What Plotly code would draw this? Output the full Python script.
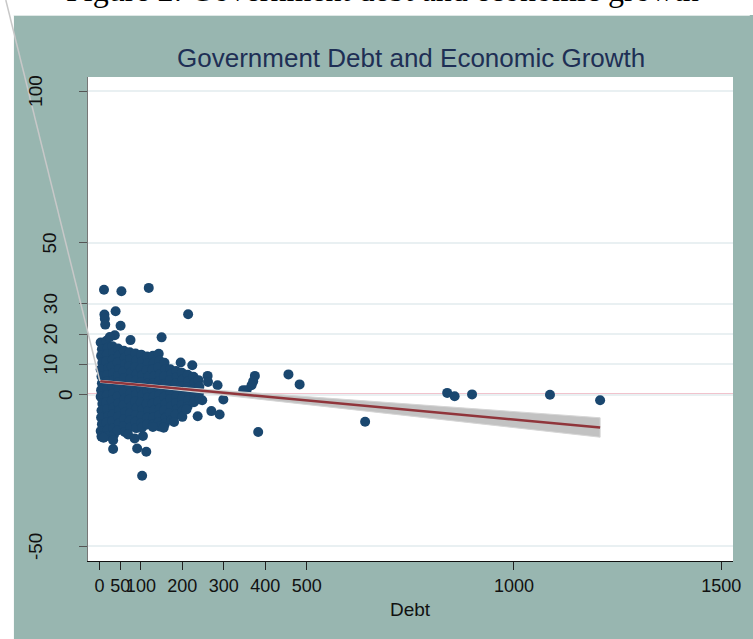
import plotly.graph_objects as go

# ---- data -----------------------------------------------------------------
# dense cluster, column by column (debt, growth)
cluster_debt = [
    3, 6, 4, 7, 3, 5, 6, 4, 3, 7, 5, 4, 6, 3, 5,
    17, 20, 18, 16, 21, 19, 17, 20, 18, 16, 19, 21, 17, 20, 18,
    31, 34, 32, 30, 33, 35, 31, 33, 30, 34, 32, 31, 33, 35,
    45, 47, 44, 48, 46, 45, 47, 44, 46, 48, 45, 47, 44,
    59, 61, 62, 58, 60, 63, 59, 61, 58, 62, 60, 59, 61,
    73, 75, 72, 76, 74, 73, 75, 72, 76, 74, 73, 75,
    87, 89, 86, 90, 88, 87, 89, 86, 90, 88, 87, 89,
    101, 103, 100, 104, 102, 101, 103, 100, 104, 102, 101, 103,
    115, 117, 114, 118, 116, 115, 117, 114, 118, 116, 115,
    129, 131, 128, 132, 130, 129, 131, 128, 132, 130, 129,
    143, 145, 142, 146, 144, 143, 145, 142, 146, 144, 143, 145,
    157, 159, 156, 160, 158, 157, 159, 156, 160, 158,
    171, 173, 170, 174, 172, 171, 173, 170, 174,
    185, 187, 184, 188, 186, 185, 187, 184,
    199, 201, 198, 202, 200, 199, 201,
    213, 215, 212, 216, 214, 213,
    227, 229, 226, 230, 228,
    239, 241, 240, 242,
]
cluster_growth = [
    17.2, 15.0, 12.8, 10.5, 8.3, 6.0, 3.8, 1.5, -0.7, -3.0, -5.2, -7.5, -9.7, -12.0, -13.8,
    17.8, 15.5, 13.3, 11.0, 8.8, 6.5, 4.3, 2.0, -0.2, -2.5, -4.7, -7.0, -9.2, -11.5, -13.6,
    16.0, 13.8, 11.5, 9.3, 7.0, 4.8, 2.5, 0.3, -2.0, -4.2, -6.5, -8.7, -11.0, -13.2,
    15.2, 13.0, 10.7, 8.5, 6.2, 4.0, 1.7, -0.5, -2.8, -5.0, -7.3, -9.5, -11.8,
    14.5, 12.2, 10.0, 7.7, 5.5, 3.2, 1.0, -1.3, -3.5, -5.8, -8.0, -10.3, -12.3,
    14.0, 11.8, 9.5, 7.3, 5.0, 2.8, 0.5, -1.7, -4.0, -6.2, -8.5, -10.7,
    13.6, 11.3, 9.1, 6.8, 4.6, 2.3, 0.1, -2.2, -4.4, -6.7, -8.9, -11.0,
    13.2, 11.0, 8.7, 6.5, 4.2, 2.0, -0.3, -2.5, -4.8, -7.0, -9.3, -10.8,
    12.6, 10.4, 8.1, 5.9, 3.6, 1.4, -0.9, -3.1, -5.4, -7.6, -9.8,
    12.8, 10.5, 8.3, 6.0, 3.8, 1.5, -0.7, -3.0, -5.2, -7.5, -9.8,
    13.5, 11.2, 9.0, 6.7, 4.5, 2.2, 0.0, -2.3, -4.5, -6.8, -9.0, -10.5,
    10.5, 8.3, 6.0, 3.8, 1.5, -0.7, -3.0, -5.2, -7.5, -9.6,
    8.4, 6.8, 4.8, 2.7, 0.6, -1.5, -3.7, -6.0, -8.3,
    7.8, 5.8, 3.6, 1.5, -0.6, -2.7, -4.8, -6.6,
    7.2, 5.0, 2.9, 0.8, -1.3, -3.4, -5.2,
    6.6, 4.5, 2.4, 0.3, -1.8, -3.8,
    5.9, 3.8, 1.7, -0.4, -2.5,
    4.8, 2.6, 0.4, -1.5,
]
# scattered points outside the cluster
outlier_debt = [
    11, 53, 119, 214, 39, 12, 13, 14, 51, 75, 150, 37, 25,
    196, 224, 261, 262, 285, 299, 270, 290, 237, 200, 210, 248,
    375, 371, 367, 355, 347, 456, 483, 383, 641,
    839, 857, 899, 1087, 1208,
    103, 113, 91, 33, 10, 33, 69, 85, 105, 129, 155, 180,
]
outlier_growth = [
    34.6, 34.1, 35.2, 26.5, 27.5, 26.4, 25.0, 23.1, 22.7, 18.0, 18.9, 19.6, 19.0,
    10.6, 9.7, 6.2, 4.2, 3.1, -1.6, -5.4, -6.5, -7.1, -7.3, -4.9, -1.8,
    6.2, 4.4, 3.1, 1.5, 1.5, 6.7, 3.4, -12.3, -8.9,
    0.6, -0.5, 0.1, 0.0, -1.8,
    -26.7, -18.8, -17.7, -17.9, -14.2, -15.0, -13.1, -14.4, -13.6, -10.6, -10.9, -9.0,
]
# linear fit with confidence band
fit_x = [1.7, 100, 200, 300, 400, 500, 600, 700, 800, 900, 1000, 1100, 1208]
fit_y = [4.4, 3.16, 1.9, 0.64, -0.62, -1.88, -3.14, -4.4, -5.66, -6.92, -8.18, -9.44, -10.8]
ci_upper = [4.75, 3.46, 2.35, 1.32, 0.33, -0.66, -1.64, -2.62, -3.61, -4.59, -5.58, -6.54, -7.6]
ci_lower = [4.05, 2.86, 1.45, -0.04, -1.57, -3.10, -4.64, -6.18, -7.71, -9.25, -10.78, -12.34, -14.0]

x_ticks = [0, 50, 100, 200, 300, 400, 500, 1000, 1500]
y_ticks = [-50, 0, 10, 20, 30, 50, 100]

# ---- styles -----------------------------------------------------------------
NAVY = "#1a476f"
MAROON = "#90353b"
PANEL = "#98b6b0"
SANS = "Liberation Sans, Arial, sans-serif"
# horizontal centre (page pixels) of each rotated y label, as placed in the original
y_label_centre = [35, 65, 50, 50, 50, 50, 35]

debt = cluster_debt + outlier_debt
growth = cluster_growth + outlier_growth

fig = go.Figure()
fig.add_trace(go.Scatter(
    x=debt, y=growth, mode="markers",
    marker=dict(color=NAVY, size=10, line=dict(width=0)),
    showlegend=False, hoverinfo="skip",
))
fig.add_trace(go.Scatter(
    x=fit_x + fit_x[::-1], y=ci_upper + ci_lower[::-1],
    fill="toself", fillcolor="#c2c2c2", mode="lines",
    line=dict(color="#d6d6d6", width=1),
    showlegend=False, hoverinfo="skip",
))
fig.add_trace(go.Scatter(
    x=[fit_x[0], fit_x[-1]], y=[fit_y[0], fit_y[-1]], mode="lines",
    line=dict(color=MAROON, width=2.5),
    showlegend=False, hoverinfo="skip",
))

W, H = 753, 639
L, R, T, B = 88, 12, 77, 78
pw, ph = W - L - R, H - T - B


def px(xp):
    return (xp - L) / pw


def py(yp):
    return (H - B - yp) / ph


shapes = [
    # white page strips outside the grey panel
    dict(type="rect", xref="paper", yref="paper", x0=px(-20), x1=px(W + 20),
         y0=py(15), y1=py(-20), fillcolor="white", line=dict(width=0), layer="below"),
    dict(type="rect", xref="paper", yref="paper", x0=px(-20), x1=px(13),
         y0=py(H + 20), y1=py(-20), fillcolor="white", line=dict(width=0), layer="below"),
    dict(type="line", xref="paper", yref="paper", x0=px(13), x1=px(W + 5),
         y0=py(15.5), y1=py(15.5), line=dict(color="#dfe8e6", width=1), layer="below"),
    # horizontal reference line at zero
    dict(type="line", xref="paper", yref="y", x0=0, x1=1, y0=0, y1=0,
         line=dict(color="#c8103a", width=2), layer="between"),
    # thin grey stroke running from the corner to the start of the fit
    dict(type="line", xref="paper", yref="paper", x0=px(4.8), y0=py(0),
         x1=px(100), y1=py(381), line=dict(color="#c8c8c8", width=1.5), layer="above"),
]

annotations = [
    dict(text="Figure 2: Government debt and economic growth", xref="paper", yref="paper",
         x=px(386), y=py(10), xanchor="center", yanchor="bottom", showarrow=False,
         font=dict(family="Liberation Serif, Times New Roman, serif", size=32, color="#000")),
    dict(text="Government Debt and Economic Growth", xref="paper", yref="paper",
         x=px(415), y=py(57.5), xanchor="center", yanchor="middle", showarrow=False,
         font=dict(family=SANS, size=26, color="#1e2f55")),
    dict(text="Debt", xref="paper", yref="paper",
         x=px(415), y=py(609.5), xanchor="center", yanchor="middle", showarrow=False,
         font=dict(family=SANS, size=19, color="#111")),
]
# rotated y-axis labels
for val, cx in zip(y_ticks, y_label_centre):
    annotations.append(dict(
        text=str(val), xref="paper", yref="y", x=px(cx), y=val,
        xanchor="center", yanchor="middle", textangle=-90, showarrow=False,
        font=dict(family=SANS, size=19, color="#111"),
    ))

fig.update_layout(
    width=W, height=H, autosize=False,
    margin=dict(l=L, r=R, t=T, b=B, pad=0),
    paper_bgcolor=PANEL, plot_bgcolor="white",
    shapes=shapes, annotations=annotations, showlegend=False,
    xaxis=dict(
        range=[-27.6, 1528.6], tickmode="array", tickvals=x_ticks,
        ticktext=[str(v) for v in x_ticks], tickangle=0,
        ticks="outside", ticklen=8, tickcolor="#222", tickwidth=1,
        showgrid=False, zeroline=False, showline=True, linecolor="#111", linewidth=1,
        tickfont=dict(family=SANS, size=18, color="#111"),
    ),
    yaxis=dict(
        range=[-54.8, 104.7], tickmode="array", tickvals=y_ticks,
        showticklabels=False,
        ticks="outside", ticklen=8, tickcolor="#555", tickwidth=1,
        showgrid=True, gridcolor="#e9f0f2", gridwidth=2,
        zeroline=False, showline=True, linecolor="#777", linewidth=1,
    ),
)

fig.write_html(
    "out.html",
    config={"displayModeBar": False, "responsive": False},
    default_width="753px",
    default_height="639px",
    post_script="document.body.style.margin='0px';document.body.style.overflow='hidden';",
)
